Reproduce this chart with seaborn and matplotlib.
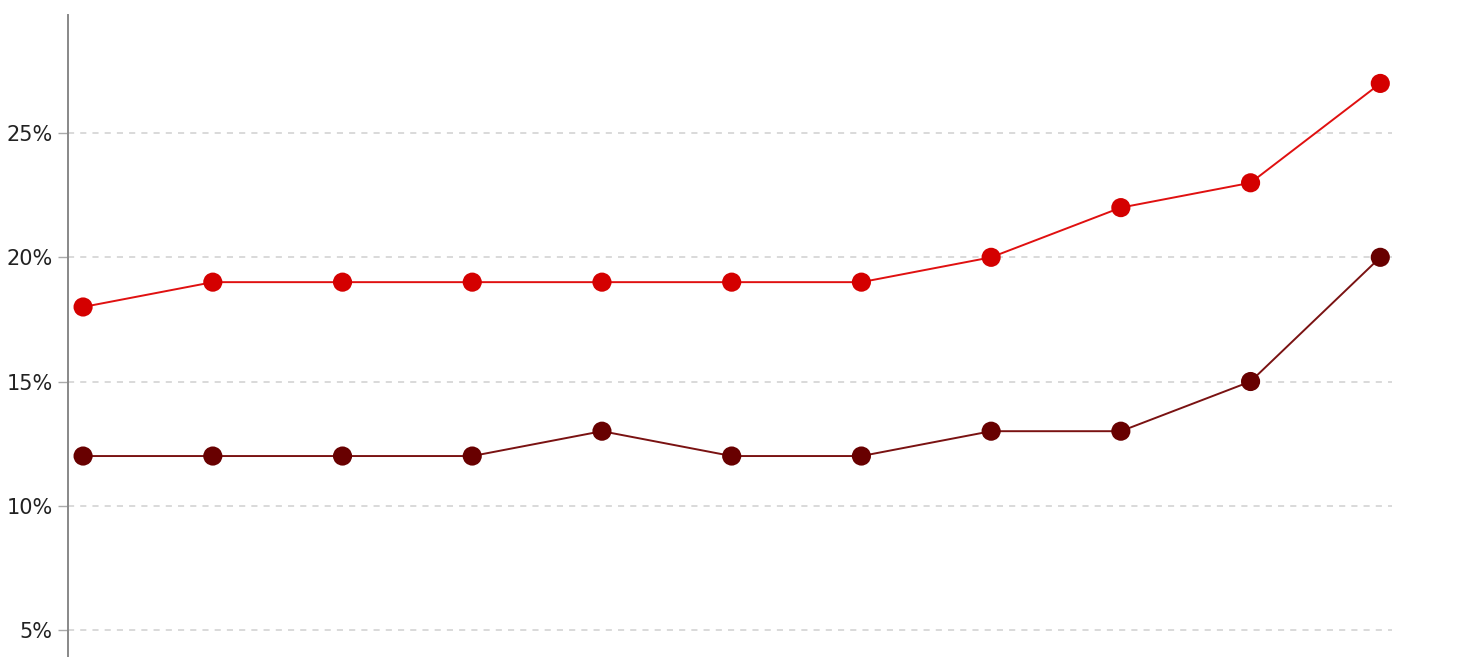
import seaborn as sns
import matplotlib.pyplot as plt
from matplotlib.ticker import FuncFormatter
import pandas as pd

# data
periods = list(range(11))
upper = [18, 19, 19, 19, 19, 19, 19, 20, 22, 23, 27]
lower = [12, 12, 12, 12, 13, 12, 12, 13, 13, 15, 20]
y_ticks = [5, 10, 15, 20, 25]

df = pd.DataFrame({
    "period": periods * 2,
    "share": upper + lower,
    "series": ["upper"] * 11 + ["lower"] * 11,
})

sns.set_style("white")
plt.rcParams['font.family'] = ['DejaVu Sans']

fig = plt.figure(figsize=(14.6, 6.57), dpi=100)
ax = fig.add_axes([0.0466, 0.0, 0.9068, 0.977])

line_cols = {"upper": "#e01010", "lower": "#7a1212"}
dot_cols = {"upper": "#d40000", "lower": "#680000"}

sns.lineplot(data=df, x="period", y="share", hue="series", palette=line_cols,
             linewidth=1.4, legend=False, ax=ax, zorder=3)
sns.scatterplot(data=df, x="period", y="share", hue="series", palette=dot_cols,
                s=190, linewidth=0, legend=False, ax=ax, zorder=4)

ax.set_xlim(-0.116, 10.09)
ax.set_ylim(3.91, 29.75)
ax.set_yticks(y_ticks)
ax.yaxis.set_major_formatter(FuncFormatter(lambda v, p: f"{v:.0f}%"))
ax.set_xticks([])
ax.set_xlabel("")
ax.set_ylabel("")

for y in y_ticks:
    ax.axhline(y, color="#d0d0d0", linewidth=1.1, linestyle=(0, (4, 4)), zorder=1)

for side in ["top", "right", "bottom"]:
    ax.spines[side].set_visible(False)
ax.spines["left"].set_color("#888888")
ax.spines["left"].set_linewidth(1.4)
ax.tick_params(axis="y", length=7, width=1, color="#aaaaaa", labelsize=15,
               labelcolor="#222222", pad=4, left=True)

fig.savefig("out.png", dpi=100)
